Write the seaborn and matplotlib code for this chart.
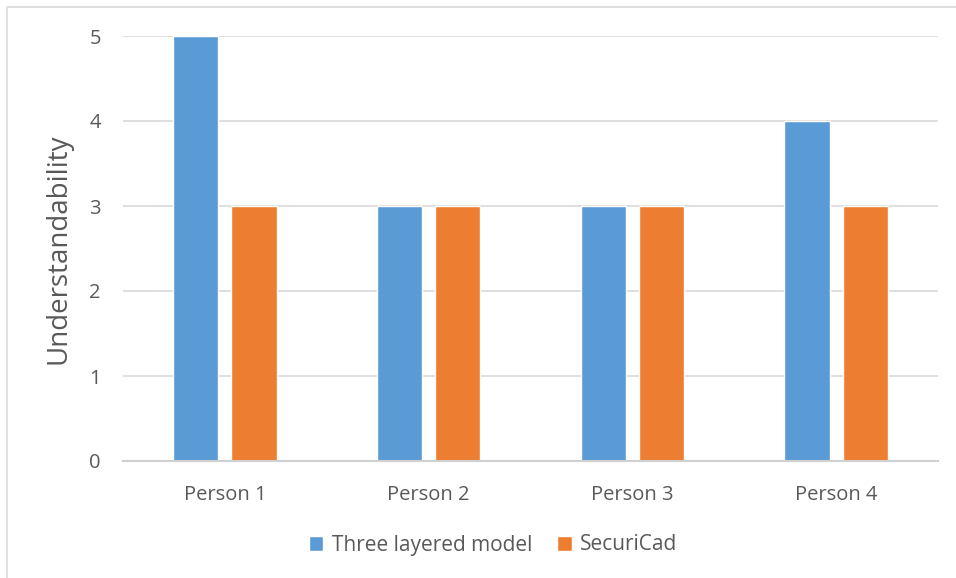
import matplotlib
matplotlib.use("Agg")
import matplotlib.pyplot as plt
import seaborn as sns
import pandas as pd
from matplotlib.patches import Rectangle

persons = ["Person 1", "Person 2", "Person 3", "Person 4"]
three_layered = [5, 3, 3, 4]
securicad = [3, 3, 3, 3]
series_names = ["Three layered model", "SecuriCad"]

df = pd.DataFrame({
    "Person": persons * 2,
    "Value": three_layered + securicad,
    "Model": [series_names[0]] * 4 + [series_names[1]] * 4,
})

sns.set_theme(style="white")
plt.rcParams['font.family'] = ['Open Sans', 'DejaVu Sans']
txt = "#595959"

W, H = 956, 578
fig = plt.figure(figsize=(W / 100, H / 100), dpi=100)
ax = fig.add_axes([123 / W, 1 - 461 / H, (938 - 123) / W, (461 - 36) / H])

sns.barplot(data=df, x="Person", y="Value", hue="Model", ax=ax,
            palette=["#5B9BD5", "#ED7D31"], width=0.57, gap=0.22,
            saturation=1, legend=True)

ax.set_ylim(0, 5)
ax.set_xlim(-0.5, 3.5)
ax.set_yticks([0, 1, 2, 3, 4, 5])
ax.grid(axis="y", color="#D9D9D9", linewidth=1.2)
ax.set_axisbelow(True)
for s in ["top", "right", "left"]:
    ax.spines[s].set_visible(False)
ax.spines["bottom"].set_color("#D0D0D0")
ax.spines["bottom"].set_linewidth(1.5)
ax.tick_params(axis="both", length=0, labelsize=14.5, colors=txt)
ax.tick_params(axis="y", pad=16)
ax.tick_params(axis="x", pad=17)
ax.set_xlabel("")
ax.set_ylabel("Understandability", fontsize=20, color=txt, labelpad=12)

handles, labels = ax.get_legend_handles_labels()
ax.legend(handles, labels, loc="center", ncol=2, frameon=False, fontsize=15,
          labelcolor=txt, handlelength=0.7, handleheight=0.7, columnspacing=1.2,
          handletextpad=0.4)
leg = ax.get_legend()
leg.set_bbox_to_anchor((493 / W, 1 - 545 / H), transform=fig.transFigure)

fig.patches.append(Rectangle((7 / W, -0.1), 1.2, 1 - 7 / H + 0.1,
                             transform=fig.transFigure, fill=False,
                             edgecolor="#D9D9D9", linewidth=1.2, figure=fig))

fig.savefig("out.png", dpi=100)
